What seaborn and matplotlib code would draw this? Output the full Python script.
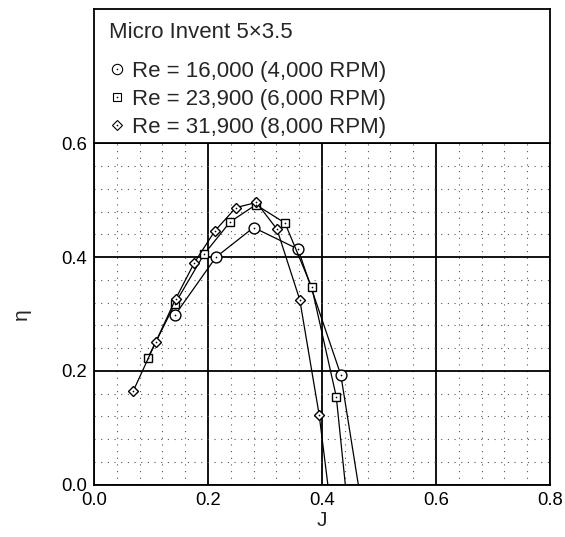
"""Propeller efficiency vs advance ratio, Micro Invent 5x3.5."""

import matplotlib

matplotlib.use("Agg")
import matplotlib.pyplot as plt
import pandas as pd
import seaborn as sns
from matplotlib.legend_handler import HandlerTuple
from matplotlib.lines import Line2D
from matplotlib.ticker import MultipleLocator

LEGEND_TITLE = "Micro Invent 5\u00d73.5"
SERIES = [
    "Re = 16,000 (4,000 RPM)",
    "Re = 23,900 (6,000 RPM)",
    "Re = 31,900 (8,000 RPM)",
]
MARKERS = ["o", "s", "D"]
MARKER_SIZES = [7.8, 6.2, 5.5]

# last point of each run lies below eta = 0 and is clipped by the axes
J_4000 = [0.142, 0.214, 0.280, 0.358, 0.433, 0.4685]
ETA_4000 = [0.298, 0.400, 0.452, 0.414, 0.193, -0.03]
J_6000 = [0.094, 0.142, 0.193, 0.239, 0.284, 0.335, 0.382, 0.425, 0.444]
ETA_6000 = [0.222, 0.318, 0.405, 0.462, 0.492, 0.460, 0.347, 0.155, -0.03]
J_8000 = [0.069, 0.108, 0.143, 0.176, 0.212, 0.249, 0.285, 0.321, 0.361, 0.395, 0.414]
ETA_8000 = [0.165, 0.250, 0.326, 0.390, 0.446, 0.487, 0.496, 0.449, 0.325, 0.123, -0.03]

X_TICKS = [0.0, 0.2, 0.4, 0.6, 0.8]
Y_TICKS = [0.0, 0.2, 0.4, 0.6]


def build_frame() -> pd.DataFrame:
    frames = []
    for name, js, etas in zip(SERIES, [J_4000, J_6000, J_8000], [ETA_4000, ETA_6000, ETA_8000]):
        frames.append(pd.DataFrame({"J": js, "eta": etas, "series": name}))
    return pd.concat(frames, ignore_index=True)


def main() -> None:
    sns.set_style("white")
    plt.rcParams["font.family"] = ["Liberation Sans", "DejaVu Sans"]

    df = build_frame()

    fig = plt.figure(figsize=(5.65, 5.37), dpi=100)
    ax = fig.add_axes([94 / 565, 1 - 484.7 / 537, 456 / 565, 341.4 / 537])

    handles = []
    for name, marker, size in zip(SERIES, MARKERS, MARKER_SIZES):
        sub = df[df["series"] == name]
        sns.lineplot(
            data=sub, x="J", y="eta", sort=False, color="black", linewidth=0.9,
            marker=marker, markersize=size, markerfacecolor="white",
            markeredgecolor="black", markeredgewidth=1.0, ax=ax, zorder=3,
        )
        sns.scatterplot(
            data=sub, x="J", y="eta", marker="o", s=1.5, color="black",
            linewidth=0, ax=ax, zorder=4,
        )
        outer = Line2D([], [], linestyle="none", marker=marker, markersize=size * 0.95,
                       markerfacecolor="white", markeredgecolor="black", markeredgewidth=0.8)
        dot = Line2D([], [], linestyle="none", marker="o", markersize=1.2,
                     color="black", markeredgewidth=0)
        handles.append((outer, dot))

    ax.set_xlim(0, 0.8)
    ax.set_ylim(0, 0.6)
    ax.set_xticks(X_TICKS)
    ax.set_yticks(Y_TICKS)
    ax.set_xticklabels([f"{v:.1f}" for v in X_TICKS])
    ax.set_yticklabels([f"{v:.1f}" for v in Y_TICKS])
    ax.xaxis.set_minor_locator(MultipleLocator(0.04))
    ax.yaxis.set_minor_locator(MultipleLocator(0.04))
    ax.grid(which="major", color="black", linewidth=1.3)
    ax.grid(which="minor", color="#555555", linewidth=0.8, linestyle=(0, (1, 5)))
    ax.set_axisbelow(True)
    ax.tick_params(which="both", length=0, labelsize=13.3, colors="black")
    ax.tick_params(axis="x", pad=5)
    ax.tick_params(axis="y", pad=5)
    for spine in ax.spines.values():
        spine.set_color("black")
        spine.set_linewidth(1.3)
    ax.set_xlabel("J", fontsize=15, labelpad=2)
    ax.set_ylabel("\u03b7", fontsize=15, labelpad=22)

    box = fig.add_axes([94 / 565, 1 - 143.3 / 537, 456 / 565, 134 / 537])
    box.set_xticks([])
    box.set_yticks([])
    for spine in box.spines.values():
        spine.set_color("black")
        spine.set_linewidth(1.3)
    box.text(0.032, 0.784, LEGEND_TITLE, fontsize=16, ha="left", va="baseline",
             transform=box.transAxes)
    box.legend(
        handles, SERIES, loc="upper left", bbox_to_anchor=(0.0351, 0.614),
        frameon=False, fontsize=16, borderpad=0, borderaxespad=0,
        handler_map={tuple: HandlerTuple(ndivide=1, pad=0)}, handlelength=0.6,
        handletextpad=0.38, labelspacing=0.32,
    )

    fig.savefig("out.png", dpi=100)
    plt.close(fig)


if __name__ == "__main__":
    main()
